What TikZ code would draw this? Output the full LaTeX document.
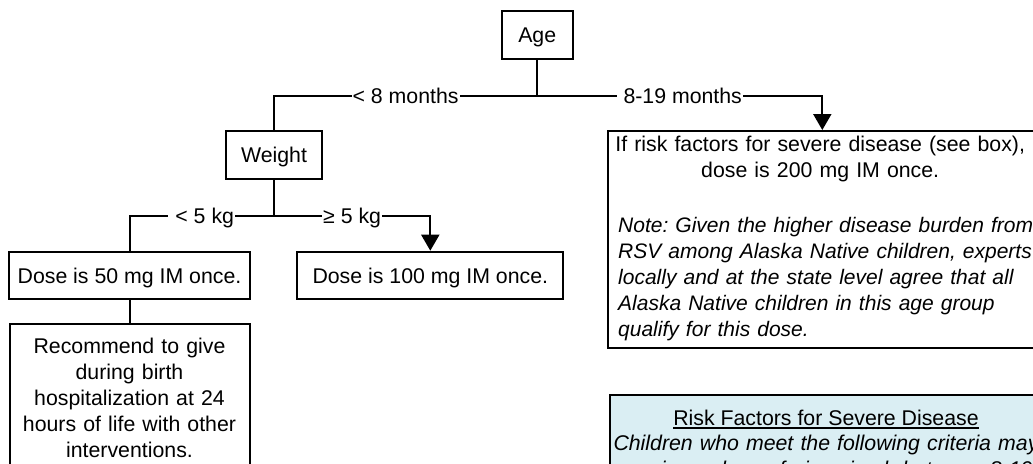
\documentclass[tikz,border=0pt]{standalone}
\usepackage{fontspec}
\setmainfont{Liberation Sans}
\usetikzlibrary{arrows.meta}
\definecolor{riskblue}{HTML}{DAEEF3}
\newcommand{\fnt}{\fontsize{21.3}{26}\selectfont\frenchspacing}
\newcommand{\itl}{\fontsize{21}{26}\selectfont\itshape}
\begin{document}
\frenchspacing
\begin{tikzpicture}[x=1pt,y=-1pt,
  every node/.style={font=\fnt},
  box/.style={draw=black, line width=2pt, inner sep=0pt, text height=15.3pt, text depth=0pt},
  frame/.style={draw=black, line width=2pt},
  conn/.style={draw=black, line width=2pt},
  arr/.style={conn, -{Triangle[width=18pt,length=16pt]}},
  lbl/.style={fill=white, inner xsep=1pt, inner ysep=0pt, text height=15.3pt, text depth=0pt},
  txt/.style={inner sep=0pt, align=center}
]
\useasboundingbox (0,0) rectangle (1033,463);
\clip (0,0) rectangle (1033,463);
\fill[white] (0,0) rectangle (1033,463);

% decision boxes
\node[box, minimum width=71pt, minimum height=48.6pt] (age) at (537.2,35) {Age};
\node[box, minimum width=96.6pt, minimum height=48.3pt] (weight) at (274,154.85) {Weight};
\node[box, minimum width=241pt, minimum height=47.3pt] (dose50) at (129.5,275.4) {Dose is 50 mg IM once.};
\node[box, minimum width=266pt, minimum height=47.6pt] (dose100) at (430.3,275.5) {Dose is 100 mg IM once.};
\node[frame, anchor=north, text width=236pt, align=center, inner xsep=2pt, inner ysep=13.5pt] (recommend) at (129.5,323.3)
  {Recommend to give\\ during birth\\ hospitalization at 24\\ hours of life with other\\ interventions.};

% 8-19 months box
\node[frame, anchor=north west, minimum width=428pt, minimum height=216.7pt, inner sep=0pt] (older) at (607.3,130) {};
\node[txt, text width=404pt, anchor=base west] (oldertext) at (618,151)
  {\makebox[\linewidth]{If risk factors for severe disease (see box),}\\
   \makebox[\linewidth]{dose is 200 mg IM once.}\\[29pt]
   \makebox[\linewidth][l]{\itl Note: Given the higher disease burden from}\\
   \makebox[\linewidth][l]{\itl RSV among Alaska Native children, experts}\\
   \makebox[\linewidth][l]{\itl locally and at the state level agree that all}\\
   \makebox[\linewidth][l]{\itl Alaska Native children in this age group}\\
   \makebox[\linewidth][l]{\itl qualify for this dose.}};

% risk factors box
\node[frame, fill=riskblue, anchor=north west, minimum width=434pt, minimum height=100pt, inner sep=0pt] (risk) at (609.3,394) {};
\node[inner sep=0pt, anchor=base] (risktitle) at (826,425) {Risk Factors for Severe Disease};
\draw[line width=1.4pt] ([yshift=-2.8pt]risktitle.base west) -- ([yshift=-2.8pt]risktitle.base east);
\node[txt, text width=430pt, anchor=base, font=\fnt\itshape] (riskbody) at (826,450)
  {Children who meet the following criteria may\\ receive a dose of nirsevimab between 8-19};

% connectors
\path (age.south) ++(0,35.7) coordinate (agej);
\draw[conn] (age.south) -- (agej);
\draw[conn] (agej) -- node[lbl]{< 8 months} (agej -| weight.north) -- (weight.north);
\draw[arr] (agej) -- node[lbl]{\ 8-19 months} (agej -| older.north) -- (older.north);

\path (weight.south) ++(0,36) coordinate (wj);
\draw[conn] (weight.south) -- (wj);
\draw[conn] (wj) -- node[lbl]{\ < 5 kg} (wj -| dose50.north) -- (dose50.north);
\draw[arr] (wj) -- node[lbl]{≥ 5 kg} (wj -| dose100.north) -- (dose100.north);

\draw[conn] (dose50.south) -- (recommend.north);
\end{tikzpicture}
\end{document}
